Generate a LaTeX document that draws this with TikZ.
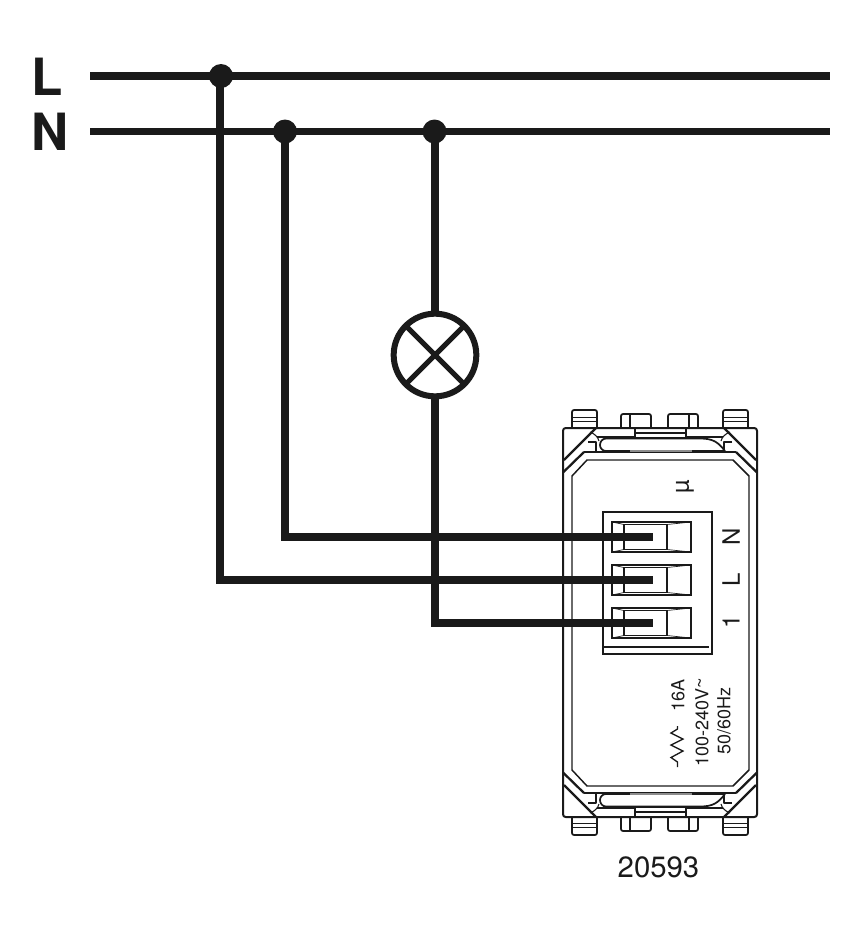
\documentclass[tikz,border=0pt]{standalone}
\usepackage{fontspec}
\setmainfont{TeX Gyre Heros}
\usetikzlibrary{calc}
\definecolor{ink}{HTML}{1A1A1A}
\tikzset{
  wire/.style={line width=5.3pt,draw=ink},
  bus/.style={line width=5.7pt,draw=ink},
  junction/.style={circle,fill=ink,inner sep=0pt,outer sep=0pt,minimum size=18pt},
  lampnode/.style={circle,draw=ink,line width=4.5pt,inner sep=0pt,outer sep=0pt,minimum size=62pt},
  busl/.style={font=\bfseries\fontsize{38.5}{38.5}\selectfont,text=ink,inner sep=0pt},
  devline/.style={line width=1.3pt,draw=ink,line join=round},
  thin line/.style={line width=.8pt,draw=ink},
  termlabel/.style={font=\fontsize{18}{18}\selectfont,text=ink,rotate=90,inner sep=0pt},
  ratelabel/.style={font=\fontsize{13.5}{14}\selectfont,text=ink,rotate=90,inner sep=0pt,anchor=west},
}
\newcommand{\devcap}{%
  % outer tabs
  \draw[devline,rounded corners=1.5pt] (572,428) -- (572,410) -- (597,410) -- (597,428);
  \draw[devline,rounded corners=1.5pt] (723,428) -- (723,410) -- (748,410) -- (748,428);
  \draw[thin line] (572,417.5) -- (597,417.5) (572,421.5) -- (597,421.5);
  \draw[thin line] (723,417.5) -- (748,417.5) (723,421.5) -- (748,421.5);
  % middle tabs
  \draw[devline,rounded corners=1.5pt] (621,428) -- (621,414) -- (651,414) -- (651,428);
  \draw[devline,rounded corners=1.5pt] (668,428) -- (668,414) -- (698,414) -- (698,428);
  \draw[devline] (630,414) -- (630,428) (689,414) -- (689,428);
  % corner diagonals
  \draw[line width=1.7pt,draw=ink] (596,428) -- (564,460) (724,428) -- (756,460);
  \draw[line width=1.7pt,draw=ink] (584,452) -- (563.5,472) (736,452) -- (756.5,472);
  \draw[thin line] (597,437) -- (635,437) (686,437) -- (723,437);
  \draw[thin line] (590,432) .. controls (595,434) and (598,437) .. (599,441);
  \draw[thin line] (730,432) .. controls (725,434) and (722,437) .. (721,441);
  % centre latch
  \draw[devline] (635,428) rectangle (686,438);
  \draw[thin line] (635,433) -- (686,433);
  % slot
  \draw[devline] (725,451) -- (606,451) to[out=180,in=-90] (600,445) to[out=90,in=180] (606,438.5) -- (700,438.5) .. controls (713,438.5) and (718,442) .. (725,451);
  \draw[line width=1.4pt,draw=ink] (584,452) -- (736,452);
  \draw[line width=1.8pt,draw=ink!50] (630,451) -- (692,451);
  \draw[devline] (588,442) -- (596,442) -- (596,452);
  \draw[devline] (732,442) -- (724,442) -- (724,452);
}
\begin{document}
\begin{tikzpicture}[x=.75pt,y=-.75pt]
\useasboundingbox (0,0) rectangle (864,940);
% device body
\draw[devline,rounded corners=2pt,line width=1.5pt] (563,428) rectangle (757,817);
\draw[devline,line width=1.1pt] (572,476) -- (587,460) -- (733,460) -- (749,476) -- (749,770) -- (733,786) -- (587,786) -- (572,770) -- cycle;
\devcap
\begin{scope}[shift={(0,1245)},yscale=-1]
\devcap
\end{scope}
% terminal block
\node[draw=ink,line width=1.3pt,minimum width=81.75pt,minimum height=106.5pt,inner sep=0pt,outer sep=0pt] (block) at (657.5,583) {};
\draw[thin line] (603,647) -- (709,647);
\foreach \n/\y in {a/537,b/580,c/623}{
  \node[draw=ink,line width=.8pt,minimum width=59.25pt,minimum height=22.5pt,inner sep=0pt] (out\n) at (651.5,\y) {};
  \node[draw=ink,line width=1.3pt,minimum width=32.25pt,minimum height=18.75pt,inner sep=0pt] (in\n) at (645.5,\y) {};
  \coordinate (end\n) at (653,\y);
  \draw[line width=.5pt,draw=ink] (612,\y-15) -- (624,\y-12.5) (612,\y+15) -- (624,\y+12.5) (691,\y-15) -- (667,\y-12.5) (691,\y+15) -- (667,\y+12.5);
}
% bus
\node[busl] (L) at (47.5,77) {L};
\node[busl] (N) at (50,131.5) {N};
\coordinate (Lw) at (90,76); \coordinate (Le) at (830,76);
\coordinate (Nw) at (90,131.5); \coordinate (Ne) at (830,131.5);
\draw[bus] (Lw) -- (Le);
\draw[bus] (Nw) -- (Ne);
\node[junction] (j1) at (221,76) {};
\node[junction] (j2) at (285,131.5) {};
\node[junction] (j3) at (434.5,131.5) {};
% lamp
\node[lampnode] (lamp) at (435,355) {};
\draw[line width=3.75pt,draw=ink] (lamp.north east) -- (lamp.south west) (lamp.north west) -- (lamp.south east);
% wires
\coordinate (ka) at (285,537); \coordinate (kb) at (220,580); \coordinate (kc) at (435,623);
\draw[wire,line join=miter] (j2.center) -- (ka) -- (enda);
\draw[wire,line join=miter] (j1.center -| kb) -- (kb) -- (endb);
\draw[wire,line join=miter] (lamp.south) -- (kc) -- (endc);
\draw[wire] (j3.center -| lamp.north) -- (lamp.north);
% labels
\node[termlabel] (tn) at (731,537) {N};
\node[termlabel] (tl) at (731,580) {L};
\node[termlabel] (t1) at (731,622) {1};
\node[font=\fontsize{18}{18}\selectfont,text=ink,rotate=90,inner sep=0pt] (mu) at (685,487) {µ};
\node[ratelabel] (r1) at (678,712) {16A};
\node[ratelabel] (r2) at (702,767) {100-240V\raisebox{2pt}{\textasciitilde}};
\node[ratelabel] (r3) at (724,755) {50/60Hz};
\draw[line width=1pt,draw=ink,line join=miter] (677.5,767) -- (677.5,762) -- (671,757.5) -- (683,751) -- (671,745) -- (683,739) -- (671,733) -- (677.5,729) -- (677.5,726);
\node[font=\fontsize{22}{22}\selectfont,text=ink,inner sep=0pt] (code) at (658.5,867.5) {20593};
\end{tikzpicture}
\end{document}
